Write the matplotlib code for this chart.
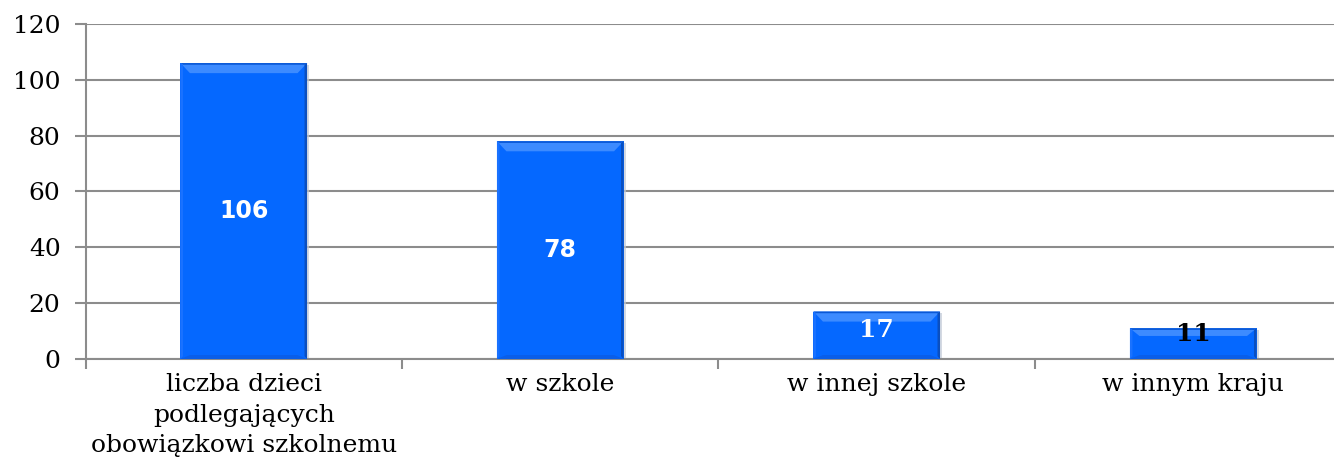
import numpy as np
import matplotlib.pyplot as plt
from matplotlib.patches import Polygon, Rectangle

categories = ["liczba dzieci\npodlegających\nobowiązkowi szkolnemu",
              "w szkole", "w innej szkole", "w innym kraju"]
values = [106, 78, 17, 11]
yticks = [0, 20, 40, 60, 80, 100, 120]

fig = plt.figure(figsize=(13.34, 4.67), dpi=100)
# the plot area runs a little past the right edge of the picture
ax = fig.add_axes([0.0641, 0.2313, 0.949, 0.7173])

x = np.arange(len(categories))
w = 0.4
grid_c = "#8c8c8c"

ax.set_xlim(-0.5, len(categories) - 0.5)
ax.set_ylim(0, 120)
ax.set_yticks(yticks)
ax.set_yticklabels([str(v) for v in yticks], fontsize=18, family="DejaVu Serif")
ax.yaxis.grid(True, color=grid_c, linewidth=1.5)
ax.set_axisbelow(True)
for s in ["top", "right"]:
    ax.spines[s].set_visible(False)
ax.spines["left"].set_color(grid_c)
ax.spines["left"].set_linewidth(1.5)
ax.spines["bottom"].set_color(grid_c)
ax.spines["bottom"].set_linewidth(1.5)
ax.tick_params(axis="y", length=8, width=1.5, color=grid_c, pad=10)

# category ticks on boundaries, labels centred under bars
ax.set_xticks(np.arange(len(categories) + 1) - 0.5)
ax.set_xticklabels([])
ax.tick_params(axis="x", length=7, width=1.5, color=grid_c)
for xi, lab in zip(x, categories):
    ax.text(xi, -5.2, lab, ha="center", va="top", fontsize=18,
            family="DejaVu Serif", linespacing=1.4)

bars = ax.bar(x, values, width=w, color="#0568ff", zorder=3, linewidth=0)

# bevel look
for b in bars:
    x0, y0 = b.get_x(), b.get_y()
    x1, y1 = x0 + b.get_width(), b.get_height()
    bx = 0.03
    by = min(3.6, y1 * 0.25)
    sx = 0.008
    ax.add_patch(Rectangle((x0 + 0.007, y0 - 0.7), b.get_width(), y1, color="#c3cad6",
                           zorder=2.5, lw=0, alpha=0.7))
    ax.add_patch(Polygon([(x0, y1), (x1, y1), (x1 - bx, y1 - by), (x0 + bx, y1 - by)],
                         closed=True, color="#3d8bff", zorder=4, lw=0))
    ax.add_patch(Polygon([(x0, y1), (x1, y1), (x1 - sx, y1 - 0.6), (x0 + sx, y1 - 0.6)],
                         closed=True, color="#0a58d6", zorder=4, lw=0))
    ax.add_patch(Polygon([(x1, y1), (x1, y0), (x1 - sx, y0 + 1.0), (x1 - sx, y1 - 0.6)],
                         closed=True, color="#0a4fc0", zorder=4, lw=0))
    ax.add_patch(Polygon([(x0, y1), (x0, y0), (x0 + sx, y0 + 1.0), (x0 + sx, y1 - 0.6)],
                         closed=True, color="#1a72ff", zorder=4, lw=0))
    ax.add_patch(Polygon([(x0, y0), (x1, y0), (x1 - bx, y0 + 1.4), (x0 + bx, y0 + 1.4)],
                         closed=True, color="#0a5ee8", zorder=4, lw=0))

# value labels
ax.text(x[0], values[0] / 2, str(values[0]), ha="center", va="center", color="white",
        fontsize=17, fontweight="bold", family="DejaVu Sans", zorder=5)
ax.text(x[1], values[1] / 2, str(values[1]), ha="center", va="center", color="white",
        fontsize=17, fontweight="bold", family="DejaVu Sans", zorder=5)
ax.text(x[2], values[2] / 2 + 1.8, str(values[2]), ha="center", va="center", color="white",
        fontsize=18, fontweight="bold", family="DejaVu Serif", zorder=5)
ax.text(x[3], values[3] / 2 + 3.6, str(values[3]), ha="center", va="center", color="black",
        fontsize=18, fontweight="bold", family="DejaVu Serif", zorder=5)

fig.savefig("out.png", dpi=100)
